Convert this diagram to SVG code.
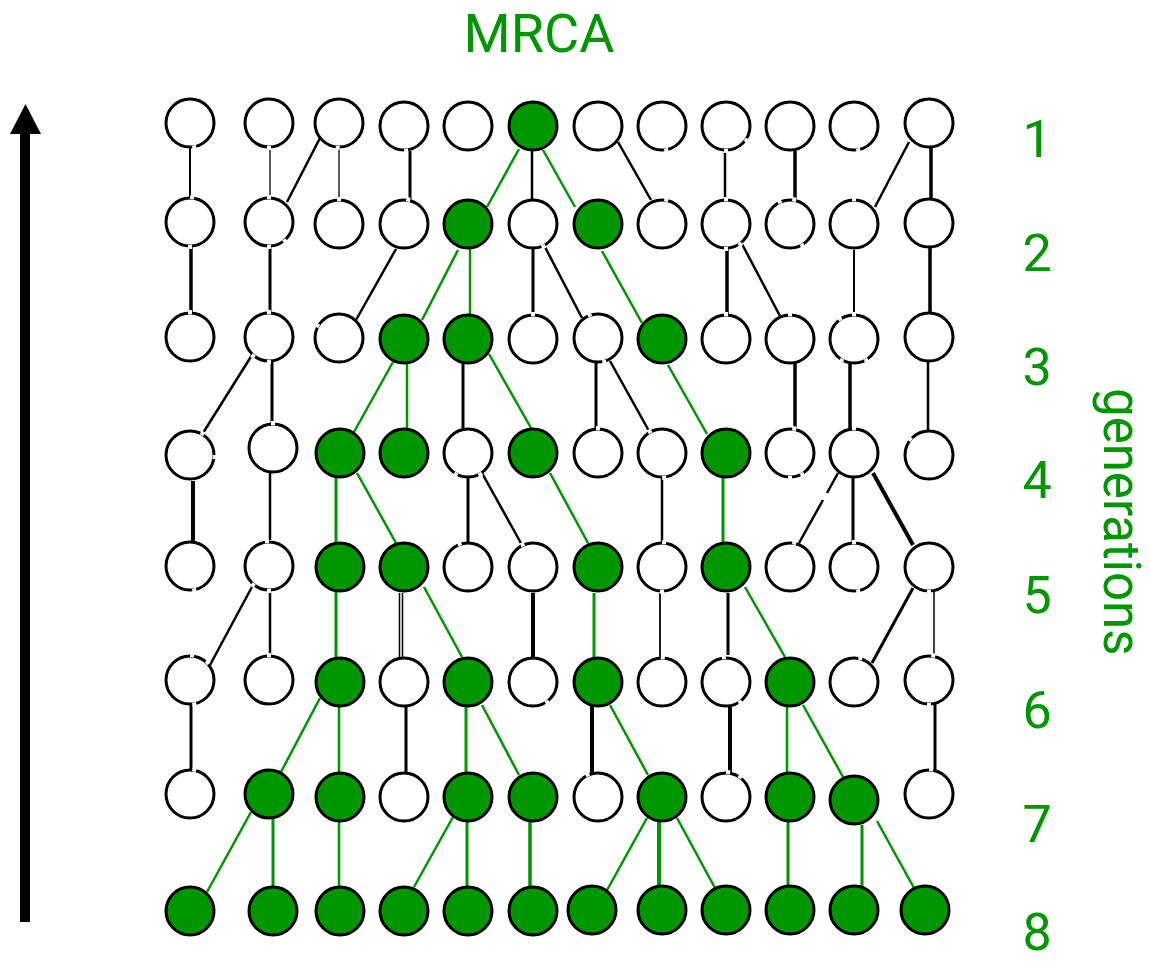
<svg xmlns="http://www.w3.org/2000/svg" width="1150" height="962" viewBox="0 0 1150 962">
<style>
.n{fill:#fff;stroke:#000;stroke-width:3}
.g{fill:#009600;stroke:#000;stroke-width:3}
.k{stroke:#000;stroke-width:2.5;fill:none}
.e{stroke:#009600;stroke-width:2.5;fill:none}
.t{font-family:Roboto,"Liberation Sans",sans-serif;fill:#009600}
</style>
<defs>
<line id="gap" x1="22.8" y1="0" x2="27" y2="0" stroke="#fff" stroke-width="4"/>
</defs>
<rect width="1150" height="962" fill="#fff"/>
<g id="arrow">
<rect x="20" y="132" width="10" height="790" fill="#000"/>
<polygon points="25.5,104 10,134 41,134" fill="#000"/>
</g>
<g id="connectors">
<!-- 1 to 2 -->
<line class="k" x1="190" y1="148" x2="190" y2="198" style="stroke-width:2"/>
<line class="k" x1="270" y1="148" x2="270" y2="198" style="stroke-width:1.3"/>
<line class="k" x1="320" y1="138" x2="287" y2="202"/>
<line class="k" x1="339" y1="148" x2="339" y2="200" style="stroke-width:1.3"/>
<line class="k" x1="410" y1="151" x2="410" y2="200" style="stroke-width:3"/>
<line class="k" x1="532" y1="150" x2="532" y2="200"/>
<line class="k" x1="618" y1="142" x2="651" y2="200"/>
<line class="k" x1="725" y1="151" x2="725" y2="199"/>
<line class="k" x1="795" y1="151" x2="795" y2="200" style="stroke-width:3.5"/>
<line class="k" x1="909" y1="142" x2="875" y2="207"/>
<line class="k" x1="931" y1="148" x2="931" y2="198" style="stroke-width:3.5"/>
<line class="e" x1="519" y1="149" x2="487" y2="207"/>
<line class="e" x1="543" y1="150" x2="575" y2="207"/>
<!-- 2 to 3 -->
<line class="k" x1="191" y1="246" x2="191" y2="313" style="stroke-width:3.5"/>
<line class="k" x1="270" y1="246" x2="270" y2="313" style="stroke-width:3"/>
<line class="k" x1="396" y1="249" x2="356" y2="320"/>
<line class="k" x1="533" y1="249" x2="533" y2="314" style="stroke-width:3"/>
<line class="k" x1="545" y1="247" x2="582" y2="318"/>
<line class="k" x1="727" y1="249" x2="727" y2="314" style="stroke-width:3.5"/>
<line class="k" x1="742" y1="244" x2="780" y2="316"/>
<line class="k" x1="854" y1="250" x2="854" y2="313" style="stroke-width:2"/>
<line class="k" x1="930" y1="248" x2="930" y2="312" style="stroke-width:3.5"/>
<line class="e" x1="458" y1="250" x2="422" y2="320"/>
<line class="e" x1="470" y1="248" x2="470" y2="314"/>
<line class="e" x1="602" y1="251" x2="642" y2="323"/>
<!-- 3 to 4 -->
<line class="k" x1="252" y1="355" x2="203" y2="433"/>
<line class="k" x1="272" y1="361" x2="272" y2="423" style="stroke-width:3"/>
<line class="k" x1="463" y1="362" x2="463" y2="428" style="stroke-width:3"/>
<line class="k" x1="596" y1="362" x2="596" y2="428" style="stroke-width:3"/>
<line class="k" x1="610" y1="361" x2="649" y2="431"/>
<line class="k" x1="795" y1="362" x2="795" y2="428" style="stroke-width:3.5"/>
<line class="k" x1="850" y1="362" x2="850" y2="428" style="stroke-width:3.5"/>
<line class="k" x1="928" y1="361" x2="928" y2="430"/>
<line class="e" x1="393" y1="362" x2="354" y2="432"/>
<line class="e" x1="407" y1="362" x2="407" y2="428"/>
<line class="e" x1="489" y1="354" x2="531" y2="428"/>
<line class="e" x1="668" y1="365" x2="707" y2="434"/>
<!-- 4 to 5 -->
<line class="k" x1="193" y1="481" x2="193" y2="542" style="stroke-width:4"/>
<line class="k" x1="270" y1="473" x2="270" y2="540"/>
<line class="k" x1="468" y1="477" x2="468" y2="543" style="stroke-width:3"/>
<line class="k" x1="482" y1="473" x2="522" y2="545"/>
<line class="k" x1="662" y1="478" x2="662" y2="543"/>
<line class="k" x1="838" y1="473" x2="827" y2="493"/>
<line class="k" x1="823" y1="500" x2="799" y2="543"/>
<line class="k" x1="853" y1="478" x2="853" y2="543" style="stroke-width:3"/>
<line class="k" x1="873" y1="473" x2="913" y2="545" style="stroke-width:4"/>
<line class="e" x1="336" y1="478" x2="336" y2="543" style="stroke-width:3"/>
<line class="e" x1="357" y1="473" x2="396" y2="543"/>
<line class="e" x1="550" y1="473" x2="588" y2="543"/>
<line class="e" x1="723" y1="478" x2="723" y2="543" style="stroke-width:3"/>
<!-- 5 to 6 -->
<line class="k" x1="253" y1="585" x2="210" y2="665"/>
<line class="k" x1="270" y1="590" x2="270" y2="655"/>
<line class="k" x1="401" y1="593" x2="401" y2="657" style="stroke-width:4.5"/>
<line x1="401" y1="593" x2="401" y2="657" stroke="#fff" stroke-width="1.5"/>
<line class="k" x1="533" y1="593" x2="533" y2="657" style="stroke-width:4"/>
<line class="k" x1="660" y1="593" x2="660" y2="657" style="stroke-width:1.8"/>
<line class="k" x1="728" y1="593" x2="728" y2="655" style="stroke-width:3"/>
<line class="k" x1="913" y1="588" x2="872" y2="663" style="stroke-width:3"/>
<line class="k" x1="934" y1="590" x2="934" y2="655" style="stroke-width:1.5"/>
<line class="e" x1="336" y1="591" x2="336" y2="657" style="stroke-width:3"/>
<line class="e" x1="424" y1="587" x2="462" y2="657"/>
<line class="e" x1="594" y1="593" x2="594" y2="657" style="stroke-width:3"/>
<line class="e" x1="745" y1="587" x2="785" y2="657"/>
<!-- 6 to 7 -->
<line class="k" x1="191" y1="705" x2="191" y2="770" style="stroke-width:3"/>
<line class="k" x1="406" y1="707" x2="406" y2="773" style="stroke-width:3"/>
<line class="k" x1="592" y1="706" x2="592" y2="773" style="stroke-width:4"/>
<line class="k" x1="730" y1="707" x2="730" y2="773" style="stroke-width:4"/>
<line class="k" x1="935" y1="703" x2="935" y2="770" style="stroke-width:3"/>
<line class="e" x1="320" y1="698" x2="281" y2="772"/>
<line class="e" x1="339" y1="707" x2="339" y2="772"/>
<line class="e" x1="466" y1="707" x2="466" y2="773" style="stroke-width:3"/>
<line class="e" x1="482" y1="705" x2="519" y2="775"/>
<line class="e" x1="610" y1="705" x2="648" y2="775"/>
<line class="e" x1="787" y1="707" x2="787" y2="773"/>
<line class="e" x1="803" y1="705" x2="843" y2="777"/>
<!-- 7 to 8 -->
<line class="e" x1="251" y1="812" x2="207" y2="892"/>
<line class="e" x1="273" y1="818" x2="273" y2="887" style="stroke-width:3"/>
<line class="e" x1="339" y1="822" x2="339" y2="887"/>
<line class="e" x1="453" y1="817" x2="414" y2="887"/>
<line class="e" x1="467" y1="822" x2="467" y2="887" style="stroke-width:3"/>
<line class="e" x1="530" y1="822" x2="530" y2="887" style="stroke-width:3.5"/>
<line class="e" x1="647" y1="818" x2="606" y2="892"/>
<line class="e" x1="659" y1="822" x2="659" y2="887" style="stroke-width:4"/>
<line class="e" x1="677" y1="818" x2="715" y2="888"/>
<line class="e" x1="788" y1="822" x2="788" y2="887" style="stroke-width:3"/>
<line class="e" x1="862" y1="825" x2="862" y2="887" style="stroke-width:3"/>
<line class="e" x1="877" y1="821" x2="914" y2="888"/>
</g>
<!-- row 1 -->
<g id="n1_1"><circle class="n" cx="190" cy="123" r="24"/><use href="#gap" transform="translate(190,123) rotate(80)"/></g>
<g id="n1_2"><circle class="n" cx="269" cy="123" r="24"/><use href="#gap" transform="translate(269,123) rotate(90)"/></g>
<g id="n1_3"><circle class="n" cx="339" cy="123" r="24"/><use href="#gap" transform="translate(339,123) rotate(93)"/></g>
<g id="n1_4"><circle class="n" cx="404" cy="126" r="24"/><use href="#gap" transform="translate(404,126) rotate(85)"/></g>
<g id="n1_5"><circle class="n" cx="468" cy="126" r="24"/></g>
<g id="n1_6"><circle class="g" cx="533" cy="126" r="24"/></g>
<g id="n1_7"><circle class="n" cx="598" cy="126" r="24"/></g>
<g id="n1_8"><circle class="n" cx="662" cy="126" r="24"/><use href="#gap" transform="translate(662,126) rotate(80)"/></g>
<g id="n1_9"><circle class="n" cx="726" cy="126" r="24"/><use href="#gap" transform="translate(726,126) rotate(35)"/><use href="#gap" transform="translate(726,126) rotate(90)"/></g>
<g id="n1_10"><circle class="n" cx="790" cy="126" r="24"/></g>
<g id="n1_11"><circle class="n" cx="854" cy="126" r="24"/><use href="#gap" transform="translate(854,126) rotate(80)"/></g>
<g id="n1_12"><circle class="n" cx="929" cy="123" r="24"/></g>
<!-- row 2 -->
<g id="n2_1"><circle class="n" cx="190" cy="222" r="24"/><use href="#gap" transform="translate(190,222) rotate(-85)"/><use href="#gap" transform="translate(190,222) rotate(90)"/></g>
<g id="n2_2"><circle class="n" cx="269" cy="222" r="24"/><use href="#gap" transform="translate(269,222) rotate(-90)"/><use href="#gap" transform="translate(269,222) rotate(90)"/><use href="#gap" transform="translate(269,222) rotate(50)"/></g>
<g id="n2_3"><circle class="n" cx="339" cy="224" r="24"/><use href="#gap" transform="translate(339,224) rotate(-90)"/></g>
<g id="n2_4"><circle class="n" cx="404" cy="224" r="24"/><use href="#gap" transform="translate(404,224) rotate(-80)"/></g>
<g id="n2_5"><circle class="g" cx="468" cy="224" r="24"/></g>
<g id="n2_6"><circle class="n" cx="533" cy="224" r="24"/><use href="#gap" transform="translate(533,224) rotate(65)"/></g>
<g id="n2_7"><circle class="g" cx="598" cy="224" r="24"/></g>
<g id="n2_8"><circle class="n" cx="662" cy="224" r="24"/><use href="#gap" transform="translate(662,224) rotate(-80)"/></g>
<g id="n2_9"><circle class="n" cx="726" cy="224" r="24"/><use href="#gap" transform="translate(726,224) rotate(-90)"/><use href="#gap" transform="translate(726,224) rotate(90)"/><use href="#gap" transform="translate(726,224) rotate(55)"/></g>
<g id="n2_10"><circle class="n" cx="790" cy="224" r="24"/><use href="#gap" transform="translate(790,224) rotate(-115)"/><use href="#gap" transform="translate(790,224) rotate(-80)"/><use href="#gap" transform="translate(790,224) rotate(60)"/></g>
<g id="n2_11"><circle class="n" cx="854" cy="224" r="24"/><use href="#gap" transform="translate(854,224) rotate(-90)"/></g>
<g id="n2_12"><circle class="n" cx="929" cy="223" r="24"/></g>
<!-- row 3 -->
<g id="n3_1"><circle class="n" cx="190" cy="337" r="24"/><use href="#gap" transform="translate(190,337) rotate(-90)"/></g>
<g id="n3_2"><circle class="n" cx="269" cy="337" r="24"/><use href="#gap" transform="translate(269,337) rotate(-90)"/><use href="#gap" transform="translate(269,337) rotate(130)"/><use href="#gap" transform="translate(269,337) rotate(90)"/></g>
<g id="n3_3"><circle class="n" cx="339" cy="338" r="24"/><use href="#gap" transform="translate(339,338) rotate(-150)"/></g>
<g id="n3_4"><circle class="g" cx="404" cy="339" r="24"/></g>
<g id="n3_5"><circle class="g" cx="468" cy="339" r="24"/></g>
<g id="n3_6"><circle class="n" cx="533" cy="339" r="24"/><use href="#gap" transform="translate(533,339) rotate(-90)"/></g>
<g id="n3_7"><circle class="n" cx="598" cy="338" r="24"/><use href="#gap" transform="translate(598,338) rotate(-110)"/><use href="#gap" transform="translate(598,338) rotate(75)"/></g>
<g id="n3_8"><circle class="g" cx="662" cy="339" r="24"/></g>
<g id="n3_9"><circle class="n" cx="726" cy="339" r="24"/><use href="#gap" transform="translate(726,339) rotate(-90)"/></g>
<g id="n3_10"><circle class="n" cx="790" cy="339" r="24"/><use href="#gap" transform="translate(790,339) rotate(-90)"/></g>
<g id="n3_11"><circle class="n" cx="854" cy="339" r="24"/><use href="#gap" transform="translate(854,339) rotate(-125)"/><use href="#gap" transform="translate(854,339) rotate(-90)"/><use href="#gap" transform="translate(854,339) rotate(120)"/><use href="#gap" transform="translate(854,339) rotate(60)"/></g>
<g id="n3_12"><circle class="n" cx="929" cy="337" r="24"/></g>
<!-- row 4 -->
<g id="n4_1"><circle class="n" cx="190" cy="455" r="24"/><use href="#gap" transform="translate(190,455) rotate(-60)"/><use href="#gap" transform="translate(190,455) rotate(5)"/></g>
<g id="n4_2"><circle class="n" cx="273" cy="448" r="24"/><use href="#gap" transform="translate(273,448) rotate(-90)"/></g>
<g id="n4_3"><circle class="g" cx="340" cy="453" r="24"/></g>
<g id="n4_4"><circle class="g" cx="404" cy="453" r="24"/></g>
<g id="n4_5"><circle class="n" cx="468" cy="453" r="24"/><use href="#gap" transform="translate(468,453) rotate(120)"/><use href="#gap" transform="translate(468,453) rotate(60)"/></g>
<g id="n4_6"><circle class="g" cx="533" cy="453" r="24"/></g>
<g id="n4_7"><circle class="n" cx="598" cy="453" r="24"/><use href="#gap" transform="translate(598,453) rotate(-90)"/></g>
<g id="n4_8"><circle class="n" cx="662" cy="453" r="24"/><use href="#gap" transform="translate(662,453) rotate(-120)"/><use href="#gap" transform="translate(662,453) rotate(85)"/></g>
<g id="n4_9"><circle class="g" cx="726" cy="453" r="24"/></g>
<g id="n4_10"><circle class="n" cx="790" cy="453" r="24"/><use href="#gap" transform="translate(790,453) rotate(-80)"/><use href="#gap" transform="translate(790,453) rotate(60)"/><use href="#gap" transform="translate(790,453) rotate(90)"/></g>
<g id="n4_11"><circle class="n" cx="854" cy="453" r="24"/><use href="#gap" transform="translate(854,453) rotate(-90)"/></g>
<g id="n4_12"><circle class="n" cx="929" cy="455" r="24"/><use href="#gap" transform="translate(929,455) rotate(-140)"/></g>
<!-- row 5 -->
<g id="n5_1"><circle class="n" cx="190" cy="566" r="24"/><use href="#gap" transform="translate(190,566) rotate(80)"/></g>
<g id="n5_2"><circle class="n" cx="269" cy="566" r="24"/><use href="#gap" transform="translate(269,566) rotate(-95)"/><use href="#gap" transform="translate(269,566) rotate(90)"/><use href="#gap" transform="translate(269,566) rotate(130)"/></g>
<g id="n5_3"><circle class="g" cx="340" cy="567" r="24"/></g>
<g id="n5_4"><circle class="g" cx="404" cy="567" r="24"/></g>
<g id="n5_5"><circle class="n" cx="468" cy="567" r="24"/><use href="#gap" transform="translate(468,567) rotate(-110)"/></g>
<g id="n5_6"><circle class="n" cx="533" cy="567" r="24"/><use href="#gap" transform="translate(533,567) rotate(-115)"/></g>
<g id="n5_7"><circle class="g" cx="598" cy="567" r="24"/></g>
<g id="n5_8"><circle class="n" cx="662" cy="567" r="24"/><use href="#gap" transform="translate(662,567) rotate(-85)"/><use href="#gap" transform="translate(662,567) rotate(90)"/></g>
<g id="n5_9"><circle class="g" cx="726" cy="567" r="24"/></g>
<g id="n5_10"><circle class="n" cx="790" cy="567" r="24"/><use href="#gap" transform="translate(790,567) rotate(-80)"/></g>
<g id="n5_11"><circle class="n" cx="854" cy="567" r="24"/><use href="#gap" transform="translate(854,567) rotate(-90)"/><use href="#gap" transform="translate(854,567) rotate(80)"/></g>
<g id="n5_12"><circle class="n" cx="929" cy="567" r="24"/><use href="#gap" transform="translate(929,567) rotate(90)"/></g>
<!-- row 6 -->
<g id="n6_1"><circle class="n" cx="190" cy="680" r="24"/><use href="#gap" transform="translate(190,680) rotate(-85)"/><use href="#gap" transform="translate(190,680) rotate(80)"/><use href="#gap" transform="translate(190,680) rotate(-45)"/></g>
<g id="n6_2"><circle class="n" cx="269" cy="680" r="24"/><use href="#gap" transform="translate(269,680) rotate(-90)"/></g>
<g id="n6_3"><circle class="g" cx="340" cy="682" r="24"/></g>
<g id="n6_4"><circle class="n" cx="404" cy="682" r="24"/></g>
<g id="n6_5"><circle class="g" cx="468" cy="682" r="24"/></g>
<g id="n6_6"><circle class="n" cx="533" cy="682" r="24"/><use href="#gap" transform="translate(533,682) rotate(55)"/></g>
<g id="n6_7"><circle class="g" cx="598" cy="682" r="24"/></g>
<g id="n6_8"><circle class="n" cx="662" cy="682" r="24"/><use href="#gap" transform="translate(662,682) rotate(-88)"/></g>
<g id="n6_9"><circle class="n" cx="726" cy="682" r="24"/><use href="#gap" transform="translate(726,682) rotate(-95)"/><use href="#gap" transform="translate(726,682) rotate(55)"/></g>
<g id="n6_10"><circle class="g" cx="790" cy="682" r="24"/></g>
<g id="n6_11"><circle class="n" cx="854" cy="682" r="24"/><use href="#gap" transform="translate(854,682) rotate(-75)"/></g>
<g id="n6_12"><circle class="n" cx="929" cy="680" r="24"/><use href="#gap" transform="translate(929,680) rotate(-80)"/><use href="#gap" transform="translate(929,680) rotate(90)"/></g>
<!-- row 7 -->
<g id="n7_1"><circle class="n" cx="190" cy="794" r="24"/><use href="#gap" transform="translate(190,794) rotate(-80)"/></g>
<g id="n7_2"><circle class="g" cx="269" cy="794" r="24"/></g>
<g id="n7_3"><circle class="g" cx="340" cy="797" r="24"/></g>
<g id="n7_4"><circle class="n" cx="404" cy="797" r="24"/></g>
<g id="n7_5"><circle class="g" cx="468" cy="797" r="24"/></g>
<g id="n7_6"><circle class="g" cx="533" cy="797" r="24"/></g>
<g id="n7_7"><circle class="n" cx="598" cy="797" r="24"/><use href="#gap" transform="translate(598,797) rotate(-115)"/></g>
<g id="n7_8"><circle class="g" cx="662" cy="797" r="24"/></g>
<g id="n7_9"><circle class="n" cx="726" cy="797" r="24"/><use href="#gap" transform="translate(726,797) rotate(-85)"/><use href="#gap" transform="translate(726,797) rotate(-55)"/></g>
<g id="n7_10"><circle class="g" cx="790" cy="797" r="24"/></g>
<g id="n7_11"><circle class="g" cx="854" cy="800" r="24"/></g>
<g id="n7_12"><circle class="n" cx="929" cy="794" r="24"/><use href="#gap" transform="translate(929,794) rotate(-85)"/></g>
<!-- row 8 -->
<g id="n8_1"><circle class="g" cx="190" cy="911" r="24"/></g>
<g id="n8_2"><circle class="g" cx="273" cy="911" r="24"/></g>
<g id="n8_3"><circle class="g" cx="340" cy="911" r="24"/></g>
<g id="n8_4"><circle class="g" cx="404" cy="911" r="24"/></g>
<g id="n8_5"><circle class="g" cx="468" cy="911" r="24"/></g>
<g id="n8_6"><circle class="g" cx="533" cy="911" r="24"/></g>
<g id="n8_7"><circle class="g" cx="592" cy="910" r="24"/></g>
<g id="n8_8"><circle class="g" cx="662" cy="910" r="24"/></g>
<g id="n8_9"><circle class="g" cx="726" cy="910" r="24"/></g>
<g id="n8_10"><circle class="g" cx="790" cy="910" r="24"/></g>
<g id="n8_11"><circle class="g" cx="854" cy="910" r="24"/></g>
<g id="n8_12"><circle class="g" cx="925" cy="910" r="24"/></g>
<g id="labels">
<text class="t" x="539" y="52" font-size="54" text-anchor="middle">MRCA</text>
<text class="t" x="1037" y="157" font-size="52" text-anchor="middle">1</text>
<text class="t" x="1037" y="271" font-size="52" text-anchor="middle">2</text>
<text class="t" x="1037" y="385" font-size="52" text-anchor="middle">3</text>
<text class="t" x="1037" y="498" font-size="52" text-anchor="middle">4</text>
<text class="t" x="1037" y="613" font-size="52" text-anchor="middle">5</text>
<text class="t" x="1037" y="728" font-size="52" text-anchor="middle">6</text>
<text class="t" x="1037" y="842" font-size="52" text-anchor="middle">7</text>
<text class="t" x="1037" y="950" font-size="52" text-anchor="middle">8</text>
<text class="t" font-size="51" transform="translate(1104,388) rotate(90)">generations</text>
</g>
</svg>
